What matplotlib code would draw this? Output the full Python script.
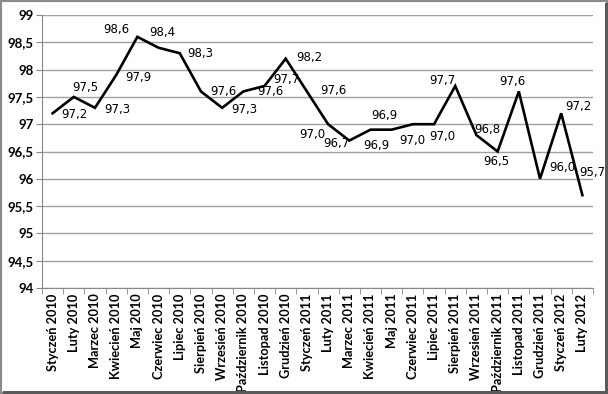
import numpy as np
import matplotlib.pyplot as plt
from matplotlib.patches import Rectangle

months = ['Styczeń 2010', 'Luty 2010', 'Marzec 2010', 'Kwiecień 2010', 'Maj 2010',
          'Czerwiec 2010', 'Lipiec 2010', 'Sierpień 2010', 'Wrzesień 2010',
          'Październik 2010', 'Listopad 2010', 'Grudzień 2010', 'Styczeń 2011',
          'Luty 2011', 'Marzec 2011', 'Kwiecień 2011', 'Maj 2011', 'Czerwiec 2011',
          'Lipiec 2011', 'Sierpień 2011', 'Wrzesień 2011', 'Październik 2011',
          'Listopad 2011', 'Grudzień 2011', 'Styczeń 2012', 'Luty 2012']
values = [97.2, 97.5, 97.3, 97.9, 98.6, 98.4, 98.3, 97.6, 97.3, 97.6, 97.7, 98.2, 97.6,
          97.0, 96.7, 96.9, 96.9, 97.0, 97.0, 97.7, 96.8, 96.5, 97.6, 96.0, 97.2, 95.7]
yticks = [94, 94.5, 95, 95.5, 96, 96.5, 97, 97.5, 98, 98.5, 99]

# where each data label sits relative to its point (pixels)
label_offsets = [(22, -1), (12, 9), (22, -2), (22, -2), (-21, 7), (4, 15), (20, 0),
                 (22, 0), (22, -2), (27, 0), (22, 6), (24, 1), (26, 1), (-16, -10),
                 (-13, -3), (6, -16), (-7, 14), (-1, -16), (8, -12), (-13, 5), (11, 6),
                 (-1, -10), (-6, 10), (22, 11), (17, 7), (10, 23)]

fig = plt.figure(figsize=(6.08, 3.94), dpi=100)
ax = fig.add_axes([42 / 608, 1 - 288 / 394, 551 / 608, 273 / 394])

x = np.arange(len(months))
ax.plot(x, values, color='black', linewidth=1.9, solid_joinstyle='miter')

for i, v in enumerate(values):
    dx, dy = label_offsets[i]
    ax.annotate(f'{v:.1f}'.replace('.', ','), (i, v), xytext=(dx, dy),
                textcoords='offset pixels', ha='center', va='center',
                fontsize=8.5, family='DejaVu Sans')

ax.set_xlim(-0.5, len(months) - 0.5)
ax.set_ylim(94, 99)
ax.set_yticks(yticks)
ax.set_yticklabels([f'{t:g}'.replace('.', ',') for t in yticks],
                   fontsize=9.5, fontweight='bold', family='Lato')
ax.set_xticks(x)
ax.set_xticklabels(months, rotation=90, fontsize=9.2, fontweight='bold', family='Lato')
ax.set_xticks(np.arange(len(months) + 1) - 0.5, minor=True)
ax.tick_params(axis='x', which='major', length=0, pad=4)
ax.tick_params(axis='x', which='minor', length=4, color='#888888')
ax.tick_params(axis='y', length=4, color='#888888', pad=2)

ax.grid(axis='y', color='#a0a0a0', linewidth=1)
ax.set_axisbelow(True)
for side in ['top', 'right']:
    ax.spines[side].set_visible(False)
for side in ['left', 'bottom']:
    ax.spines[side].set_color('#888888')

# frame with shadow around the whole chart
fig.patches.append(Rectangle((0, 0), 1, 1, transform=fig.transFigure, fill=False,
                             edgecolor='#8a8a8a', linewidth=3))
fig.patches.append(Rectangle((3 / 608, 0), 1, 3 / 394, transform=fig.transFigure,
                             facecolor='#5a5a5a', edgecolor='none'))
fig.patches.append(Rectangle((1 - 3 / 608, 0), 3 / 608, 1 - 3 / 394, transform=fig.transFigure,
                             facecolor='#5a5a5a', edgecolor='none'))

fig.savefig('out.png', dpi=100)
